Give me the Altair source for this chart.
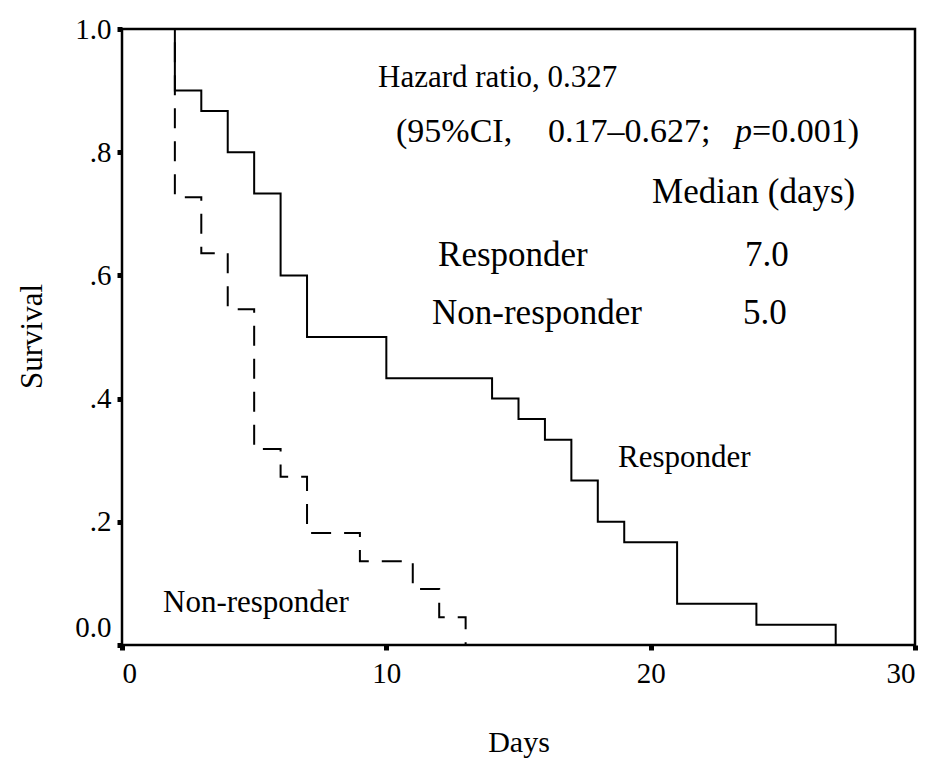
import altair as alt
import pandas as pd

# Kaplan-Meier steps
resp_days = [0, 2, 3, 4, 5, 6, 7, 10, 14, 15, 16, 17, 18, 19, 21, 24, 27]
resp_surv = [1.0, 0.9, 0.867, 0.8, 0.733, 0.6, 0.5, 0.433, 0.4, 0.367, 0.333,
             0.267, 0.2, 0.167, 0.067, 0.033, 0.0]
non_days = [0, 2, 3, 4, 5, 6, 7, 9, 11, 12, 13]
non_surv = [1.0, 0.727, 0.636, 0.545, 0.318, 0.273, 0.182, 0.136, 0.091, 0.045, 0.0]

x_ticks = [0, 10, 20, 30]
y_ticks = [0, 0.2, 0.4, 0.6, 0.8, 1.0]

# annotations (text, left x in days, baseline y in survival units, font size)
ann_text = ["Hazard ratio, 0.327", "(95%CI,", "0.17\u20130.627;", "=0.001)",
            "Median (days)", "Responder", "7.0", "Non-responder", "5.0",
            "Responder", "Non-responder"]
ann_day = [9.685, 10.367, 16.118, 23.836, 20.053, 11.956, 23.57, 11.729, 23.496,
           18.767, 1.551]
ann_surv = [0.906, 0.817, 0.817, 0.817, 0.7175, 0.6153, 0.6153, 0.5211, 0.5211,
            0.289, 0.0536]
ann_size = [31, 34, 34, 34, 35, 35, 35, 35, 35, 31, 31]
ital_text = ["p"]
ital_day = [23.193]
ital_surv = [0.817]
ital_size = [34]

resp_df = pd.DataFrame({"day": resp_days, "surv": resp_surv})
non_df = pd.DataFrame({"day": non_days, "surv": non_surv})
ann_df = pd.DataFrame({"day": ann_day, "surv": ann_surv, "label": ann_text,
                       "fs": ann_size})
ital_df = pd.DataFrame({"day": ital_day, "surv": ital_surv, "label": ital_text,
                        "fs": ital_size})

FONT = "Liberation Serif"

X = alt.X("day:Q", scale=alt.Scale(domain=[0, 30], nice=False),
          axis=alt.Axis(values=x_ticks, title="Days", labelPadding=9,
                        titleX=396.5, titleY=106, titleBaseline="alphabetic",
                        titleAlign="center"))
Y = alt.Y("surv:Q", scale=alt.Scale(domain=[0, 1], nice=False),
          axis=alt.Axis(values=y_ticks, title="Survival", labelPadding=6,
                        labelExpr="datum.value == 0 || datum.value == 1 ? format(datum.value, '.1f') : substring(format(datum.value, '.1f'), 1)",
                        labelOffset={"condition": {"test": "datum.value === 0", "value": -18}, "value": 0},
                        titleAngle=270, titleX=-90, titleY=307, titleFontSize=31,
                        titleAlign="center", titleBaseline="middle"))

resp_line = alt.Chart(resp_df).mark_line(
    interpolate="step-after", color="black", strokeWidth=2
).encode(x=X, y=Y)

non_line = alt.Chart(non_df).mark_line(
    interpolate="step-after", color="black", strokeWidth=2, strokeDash=[20, 13]
).encode(x=X, y=Y)

ann = alt.Chart(ann_df).mark_text(
    align="left", baseline="alphabetic", font=FONT, color="black"
).encode(x=X, y=Y, text="label:N", size=alt.Size("fs:Q", scale=None, legend=None))

ital = alt.Chart(ital_df).mark_text(
    align="left", baseline="alphabetic", font=FONT, color="black",
    fontStyle="italic"
).encode(x=X, y=Y, text="label:N", size=alt.Size("fs:Q", scale=None, legend=None))

chart = alt.layer(resp_line, non_line, ann, ital).properties(
    width=793, height=616,
    autosize=alt.AutoSizeParams(type="none"),
    padding={"left": 114, "top": 21, "right": 8, "bottom": 114},
    background="white",
).configure_view(
    stroke="black", strokeWidth=2.5
).configure_axis(
    domain=False, grid=False, ticks=True, tickColor="black", tickSize=5,
    tickWidth=5, labelFont=FONT, labelFontSize=29, labelColor="black",
    titleFont=FONT, titleFontSize=30, titleFontWeight="normal", titleColor="black"
)

chart.save("out.html", embed_options={"renderer": "svg", "actions": False})
